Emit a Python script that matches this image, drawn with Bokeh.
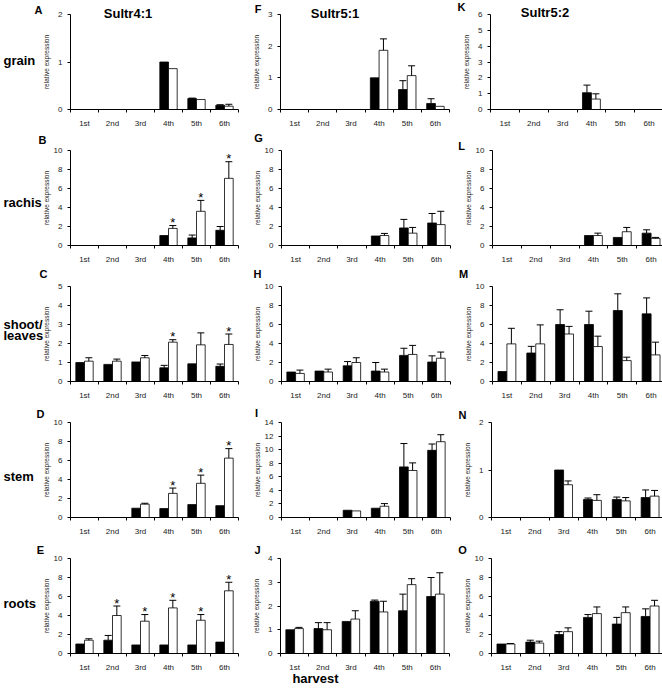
import math
from bokeh.plotting import figure
from bokeh.models import ColumnDataSource, Range1d, FixedTicker, Whisker, TeeHead
from bokeh.layouts import row, column
from bokeh.embed import file_html
from bokeh.resources import INLINE
from bokeh.core.properties import value

nan = float("nan")

harvest = ["1st", "2nd", "3rd", "4th", "5th", "6th"]
genes = ["Sultr4:1", "Sultr5:1", "Sultr5:2"]
tissues = ["grain", "rachis", "shoot/", "leaves", "stem", "roots"]
letters = ["A", "B", "C", "D", "E", "F", "G", "H", "I", "J", "K", "L", "M", "N", "O"]

# ---- Sultr4:1 ----
A_b = [nan, nan, nan, 1.0, 0.23, 0.09]
A_be = [0, 0, 0, 0, 0.01, 0.01]
A_w = [nan, nan, nan, 0.86, 0.21, 0.07]
A_we = [0, 0, 0, 0, 0.0, 0.04]

B_b = [nan, nan, nan, 1.05, 0.8, 1.6]
B_be = [0, 0, 0, 0, 0.3, 0.4]
B_w = [nan, nan, nan, 1.8, 3.6, 7.07]
B_we = [0, 0, 0, 0.3, 1.15, 1.75]
B_star = [0, 0, 0, 1, 1, 1]

C_b = [1.0, 0.9, 1.03, 0.72, 0.93, 0.8]
C_be = [0, 0, 0, 0.13, 0, 0.12]
C_w = [1.07, 1.07, 1.25, 2.07, 1.93, 1.95]
C_we = [0.18, 0.11, 0.12, 0.13, 0.63, 0.55]
C_star = [0, 0, 0, 1, 0, 1]

D_b = [nan, nan, 0.98, 0.94, 1.36, 1.25]
D_be = [0, 0, 0, 0, 0, 0]
D_w = [nan, nan, 1.4, 2.54, 3.6, 6.25]
D_we = [0, 0, 0.1, 0.56, 0.86, 1.0]
D_star = [0, 0, 0, 1, 1, 1]

E_b = [1.0, 1.4, 0.9, 0.9, 0.9, 1.2]
E_be = [0, 0.5, 0, 0, 0, 0]
E_w = [1.4, 4.0, 3.4, 4.8, 3.5, 6.6]
E_we = [0.15, 1.0, 0.7, 0.8, 0.6, 0.9]
E_star = [0, 1, 1, 1, 1, 1]

# ---- Sultr5:1 ----
F_b = [nan, nan, nan, 1.0, 0.63, 0.19]
F_be = [0, 0, 0, 0, 0.28, 0.15]
F_w = [nan, nan, nan, 1.87, 1.07, 0.1]
F_we = [0, 0, 0, 0.36, 0.31, 0]

G_b = [nan, nan, nan, 1.0, 1.85, 2.37]
G_be = [0, 0, 0, 0, 0.9, 1.0]
G_w = [nan, nan, nan, 1.05, 1.3, 2.2]
G_we = [0, 0, 0, 0.22, 0.6, 1.4]

H_b = [1.0, 1.1, 1.65, 1.1, 2.75, 2.05]
H_be = [0, 0, 0.45, 0.9, 0.75, 0.65]
H_w = [0.85, 1.0, 2.0, 1.0, 2.85, 2.45]
H_we = [0.35, 0.3, 0.5, 0.3, 0.95, 0.65]

I_b = [nan, nan, 1.07, 1.37, 7.46, 9.9]
I_be = [0, 0, 0, 0, 3.44, 0.93]
I_w = [nan, nan, 0.97, 1.66, 6.93, 11.17]
I_we = [0, 0, 0, 0.39, 1.12, 1.03]

J_b = [1.0, 1.05, 1.35, 2.2, 1.8, 2.4]
J_be = [0, 0.25, 0, 0.05, 0.7, 0.8]
J_w = [1.05, 1.0, 1.45, 1.75, 2.9, 2.5]
J_we = [0.05, 0.3, 0.35, 0.45, 0.25, 0.9]

# ---- Sultr5:2 ----
K_b = [nan, nan, nan, 1.06, nan, nan]
K_be = [0, 0, 0, 0.48, 0, 0]
K_w = [nan, nan, nan, 0.66, nan, nan]
K_we = [0, 0, 0, 0.33, 0, 0]

L_b = [nan, nan, nan, 1.05, 0.85, 1.3]
L_be = [0, 0, 0, 0, 0, 0.35]
L_w = [nan, nan, nan, 1.05, 1.45, 0.75]
L_we = [0, 0, 0, 0.25, 0.45, 0.1]

M_b = [1.05, 3.0, 6.0, 6.0, 7.47, 7.12]
M_be = [0, 0.7, 1.55, 1.4, 1.76, 1.68]
M_w = [3.96, 3.96, 5.0, 3.68, 2.2, 2.8]
M_we = [1.64, 2.0, 0.8, 1.09, 0.36, 1.34]

N_b = [nan, nan, 1.0, 0.38, 0.38, 0.42]
N_be = [0, 0, 0, 0.03, 0.05, 0.16]
N_w = [nan, nan, 0.69, 0.36, 0.35, 0.45]
N_we = [0, 0, 0.08, 0.12, 0.07, 0.12]

O_b = [1.0, 1.2, 2.0, 3.8, 3.1, 3.9]
O_be = [0, 0.2, 0.3, 0.3, 0.7, 0.8]
O_w = [1.0, 1.1, 2.3, 4.2, 4.3, 5.0]
O_we = [0.05, 0.2, 0.4, 0.7, 0.6, 0.6]

# y-axis tick values per panel
A_ticks = [0, 1, 2]
B_ticks = [0, 2, 4, 6, 8, 10]
C_ticks = [0, 1, 2, 3, 4, 5]
D_ticks = [0, 2, 4, 6, 8, 10]
E_ticks = [0, 2, 4, 6, 8, 10]
F_ticks = [0, 1, 2, 3]
G_ticks = [0, 2, 4, 6, 8, 10]
H_ticks = [0, 2, 4, 6, 8, 10]
I_ticks = [0, 2, 4, 6, 8, 10, 12, 14]
J_ticks = [0, 1, 2, 3, 4]
K_ticks = [0, 1, 2, 3, 4, 5, 6]
L_ticks = [0, 2, 4, 6, 8, 10]
M_ticks = [0, 2, 4, 6, 8, 10]
N_ticks = [0, 1, 2]
O_ticks = [0, 2, 4, 6, 8, 10]

NOSTAR = [0, 0, 0, 0, 0, 0]

panels = [
    [(A_b, A_be, A_w, A_we, NOSTAR, A_ticks), (F_b, F_be, F_w, F_we, NOSTAR, F_ticks), (K_b, K_be, K_w, K_we, NOSTAR, K_ticks)],
    [(B_b, B_be, B_w, B_we, B_star, B_ticks), (G_b, G_be, G_w, G_we, NOSTAR, G_ticks), (L_b, L_be, L_w, L_we, NOSTAR, L_ticks)],
    [(C_b, C_be, C_w, C_we, C_star, C_ticks), (H_b, H_be, H_w, H_we, NOSTAR, H_ticks), (M_b, M_be, M_w, M_we, NOSTAR, M_ticks)],
    [(D_b, D_be, D_w, D_we, D_star, D_ticks), (I_b, I_be, I_w, I_we, NOSTAR, I_ticks), (N_b, N_be, N_w, N_we, NOSTAR, N_ticks)],
    [(E_b, E_be, E_w, E_we, E_star, E_ticks), (J_b, J_be, J_w, J_we, NOSTAR, J_ticks), (O_b, O_be, O_w, O_we, NOSTAR, O_ticks)],
]

# page positions (px from top-left) of the free texts, drawn on a transparent overlay
row_label_x = 3
row_label_y = [59.5, 201.5, 323.5, 334.5, 475.5, 603]
letter_x = [38, 42, 43, 40, 40, 257.5, 258, 257, 256, 257, 461, 461, 463, 462, 462]
letter_y = [9, 139, 273, 413, 549, 8.5, 137, 273, 412, 549, 6.5, 145, 273, 414, 549]
gene_x = [127.5, 334.5, 544.5]
gene_y = [12.5, 13, 12]
xlabel_pos = (315, 678)

FONT = "Liberation Sans"
COLS = [(70, 168, 12), (30, 169, 11), (27, 173, 2)]      # left border, frame width, right border
ROWS = [(14, 95, 27)] * 4 + [(14, 95, 35)]                 # top border, frame height, bottom border


def add_bars(p, off, vals, errs, fill, stars=None):
    xs, tops, ups, st = [], [], [], []
    for i, (v, e) in enumerate(zip(vals, errs)):
        if v is None or math.isnan(v):
            continue
        xs.append(i + 0.5 + off)
        tops.append(v)
        ups.append(v + e)
        st.append(stars[i] if stars else 0)
    src = ColumnDataSource(dict(x=xs, top=tops))
    p.vbar(x="x", top="top", bottom=0, width=0.31, source=src,
           fill_color=fill, line_color="black", line_width=0.8)
    ex = [(x, t, u) for x, t, u in zip(xs, tops, ups) if u > t]
    if ex:
        wsrc = ColumnDataSource(dict(x=[a[0] for a in ex], lo=[a[1] for a in ex], hi=[a[2] for a in ex]))
        p.add_layout(Whisker(source=wsrc, base="x", lower="lo", upper="hi", dimension="height",
                             line_color="black", line_width=1,
                             upper_head=TeeHead(size=7, line_color="black", line_width=1),
                             lower_head=None, level="glyph"))
    sx = [x for x, s in zip(xs, st) if s]
    sy = [u for u, s in zip(ups, st) if s]
    if sx:
        p.text(x=sx, y=sy, text=["*"] * len(sx), text_font=value(FONT), text_font_size="13px",
               text_align="center", text_baseline="middle", y_offset=-3, text_color="black")


rows_out = []
for r in range(5):
    figs = []
    for c in range(3):
        b, be, w, we, stars, yt = panels[r][c]
        lb, fw, rb = COLS[c]
        tb, fh, bb = ROWS[r]
        ymax = yt[-1]
        p = figure(frame_width=fw, frame_height=fh,
                   min_border_left=lb, min_border_right=rb, min_border_top=tb, min_border_bottom=bb,
                   x_range=Range1d(0, 6), y_range=Range1d(0, ymax),
                   output_backend="svg", toolbar_location=None, tools="")
        p.outline_line_color = None
        p.xgrid.visible = False
        p.ygrid.visible = False
        p.background_fill_color = "white"
        p.border_fill_color = "white"

        xa = p.xaxis[0]
        xa.ticker = FixedTicker(ticks=[i + 0.5 for i in range(6)], minor_ticks=list(range(7)))
        xa.major_label_overrides = {i + 0.5: harvest[i] for i in range(6)}
        xa.major_tick_line_color = None
        xa.major_tick_out = 0
        xa.major_tick_in = 0
        xa.minor_tick_in = 0
        xa.minor_tick_out = 3
        xa.minor_tick_line_color = "black"
        xa.axis_line_color = "black"
        xa.major_label_text_font = FONT
        xa.major_label_text_font_size = "8px"
        xa.major_label_text_color = "#222222"
        xa.major_label_standoff = 6

        ya = p.yaxis[0]
        ya.ticker = FixedTicker(ticks=yt, minor_ticks=[])
        ya.minor_tick_line_color = None
        ya.major_tick_out = 3
        ya.major_tick_in = 0
        ya.major_tick_line_color = "black"
        ya.axis_line_color = "black"
        ya.major_label_text_font = FONT
        ya.major_label_text_font_size = "8px"
        ya.major_label_text_color = "#222222"
        ya.major_label_standoff = 5
        ya.axis_label = "relative expression"
        ya.axis_label_text_font = FONT
        ya.axis_label_text_font_size = "6.5px"
        ya.axis_label_text_font_style = "normal"
        ya.axis_label_text_color = "#222222"
        ya.axis_label_standoff = 1 if ymax >= 10 else 5

        add_bars(p, -0.155, b, be, "black")
        add_bars(p, 0.155, w, we, "white", stars)
        figs.append(p)
    rows_out.append(row(*figs))

grid = column(*rows_out)

# transparent overlay carrying the row labels, panel letters, gene titles and the x title
ov = figure(width=662, height=688, x_range=Range1d(0, 662), y_range=Range1d(688, 0),
            min_border=0, x_axis_type=None, y_axis_type=None,
            output_backend="svg", toolbar_location=None, tools="",
            styles={"position": "absolute", "left": "0px", "top": "0px"})
ov.background_fill_color = None
ov.border_fill_color = None
ov.outline_line_color = None
ov.grid.visible = False

ov.text(x=[row_label_x] * len(tissues), y=row_label_y, text=tissues,
        text_font=value(FONT), text_font_size="13px", text_font_style="bold",
        text_align="left", text_baseline="middle", text_color="black")
ov.text(x=letter_x, y=letter_y, text=letters,
        text_font=value(FONT), text_font_size="11px", text_font_style="bold",
        text_align="center", text_baseline="middle", text_color="black")
ov.text(x=gene_x, y=gene_y, text=genes,
        text_font=value(FONT), text_font_size="13px", text_font_style="bold",
        text_align="center", text_baseline="middle", text_color="black")
ov.text(x=[xlabel_pos[0]], y=[xlabel_pos[1]], text=["harvest"],
        text_font=value(FONT), text_font_size="13px", text_font_style="bold",
        text_align="center", text_baseline="middle", text_color="black")

open("out.html", "w").write(file_html([grid, ov], INLINE))
